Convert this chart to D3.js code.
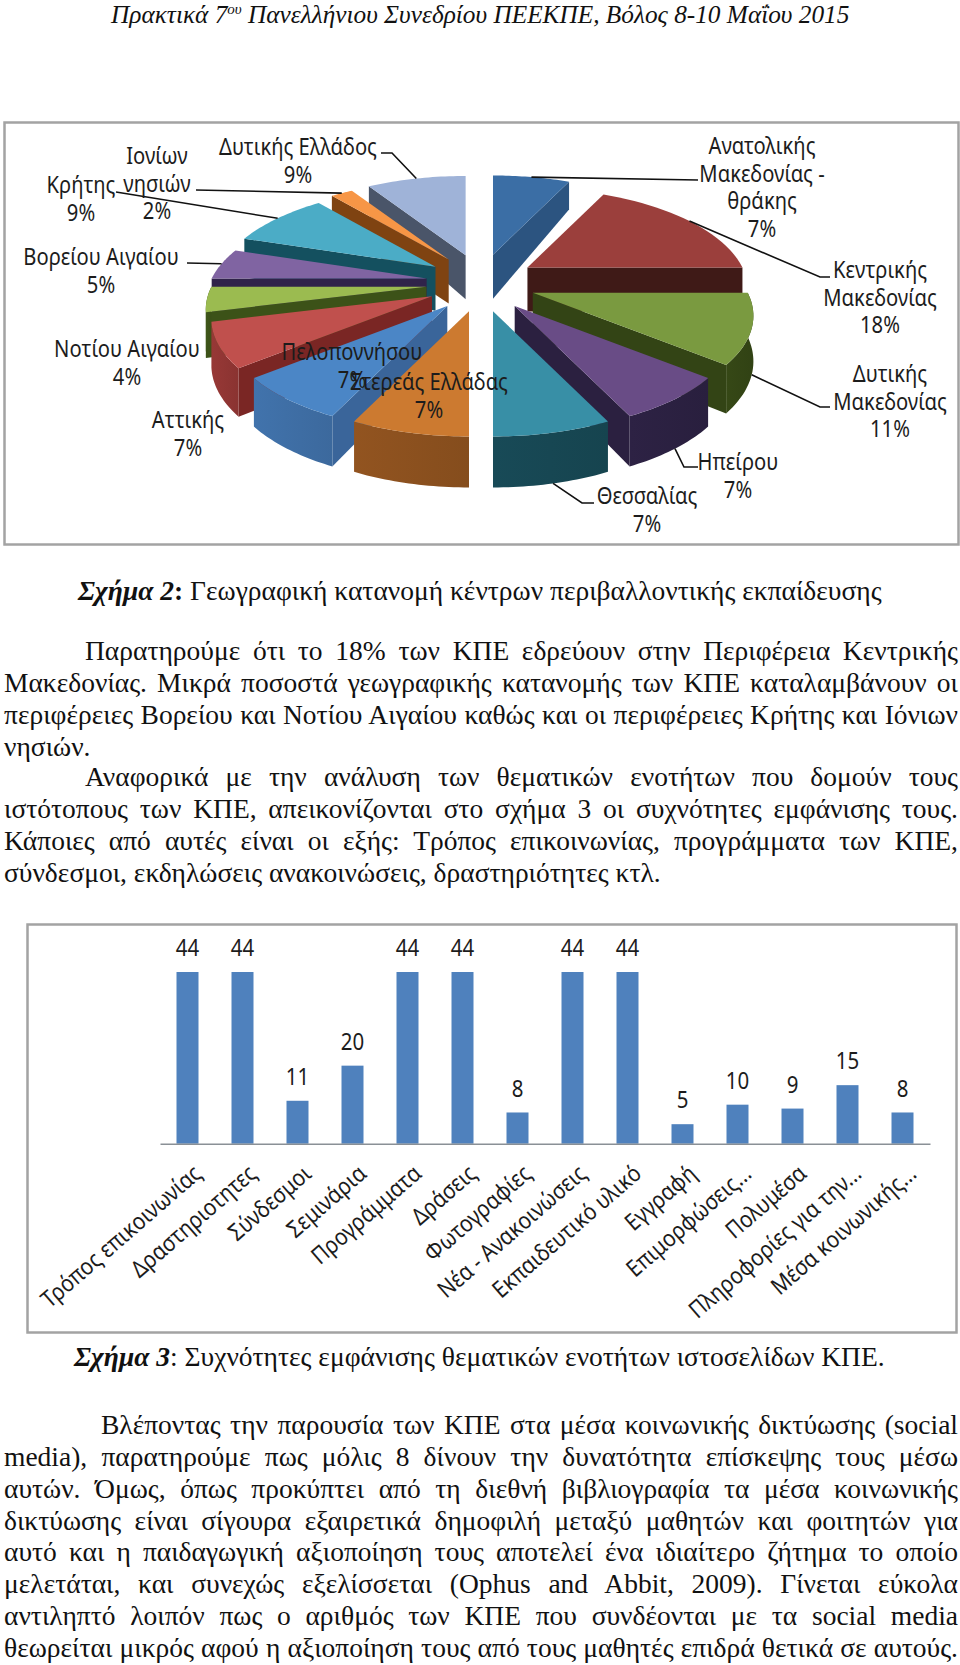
<!DOCTYPE html>
<html>
<head>
<meta charset="utf-8">
<script src="https://cdn.jsdelivr.net/npm/d3@7"></script>
<style>
  html, body { margin: 0; padding: 0; background: #fff; }
  #page { position: relative; width: 960px; height: 1665px; overflow: hidden; }
  #charts { position: absolute; left: 0; top: 0; }
  .line { position: absolute; font-family: "Liberation Serif", serif; font-size: 27.5px; line-height: 32px;
          white-space: nowrap; color: #111; text-align: justify; text-align-last: justify; }
  .line.last { text-align-last: left; }
  .lbl { font-family: "Noto Sans", sans-serif; font-size: 23.5px; fill: #1c1c1c; text-anchor: middle; }
</style>
</head>
<body>
<div id="page"><svg id="charts" width="960" height="1665"></svg></div>
<script>
// pie data
var regions = ["Ανατολικής Μακεδονίας - θράκης", "Κεντρικής Μακεδονίας", "Δυτικής Μακεδονίας", "Ηπείρου", "Θεσσαλίας",
    "Στερεάς Ελλάδας", "Πελοποννήσου", "Αττικής", "Νοτίου Αιγαίου", "Βορείου Αιγαίου", "Κρήτης", "Ιονίων νησιών", "Δυτικής Ελλάδος"];
var regionShares = [7, 18, 11, 7, 7, 7, 7, 7, 4, 5, 9, 2, 9];

// bar data
var topics = ["Τρόπος επικοινωνίας", "Δραστηριοτητες", "Σύνδεσμοι", "Σεμινάρια", "Προγράμματα", "Δράσεις", "Φωτογραφίες",
    "Νέα - Ανακοινώσεις", "Εκπαιδευτικό υλικό", "Εγγραφή", "Επιμορφώσεις...", "Πολυμέσα", "Πληροφορίες για την...", "Μέσα κοινωνικής..."];
var topicCounts = [44, 44, 11, 20, 44, 44, 8, 44, 44, 5, 10, 9, 15, 8];

// page text
var para1 = ["Παρατηρούμε ότι το 18% των ΚΠΕ εδρεύουν στην Περιφέρεια Κεντρικής",
    "Μακεδονίας. Μικρά ποσοστά γεωγραφικής κατανομής των ΚΠΕ καταλαμβάνουν οι",
    "περιφέρειες Βορείου και Νοτίου Αιγαίου καθώς και οι περιφέρειες Κρήτης και Ιόνιων",
    "νησιών."];
var para2 = ["Αναφορικά με την ανάλυση των θεματικών ενοτήτων που δομούν τους",
    "ιστότοπους των ΚΠΕ, απεικονίζονται στο σχήμα 3 οι συχνότητες εμφάνισης τους.",
    "Κάποιες από αυτές είναι οι εξής: Τρόπος επικοινωνίας, προγράμματα των ΚΠΕ,",
    "σύνδεσμοι, εκδηλώσεις ανακοινώσεις, δραστηριότητες κτλ."];
var para3 = ["Βλέποντας την παρουσία των ΚΠΕ στα μέσα κοινωνικής δικτύωσης (social",
    "media), παρατηρούμε πως μόλις 8 δίνουν την δυνατότητα επίσκεψης τους μέσω",
    "αυτών. Όμως, όπως προκύπτει από τη διεθνή βιβλιογραφία τα μέσα κοινωνικής",
    "δικτύωσης είναι σίγουρα εξαιρετικά δημοφιλή μεταξύ μαθητών και φοιτητών για",
    "αυτό και η παιδαγωγική αξιοποίηση τους αποτελεί ένα ιδιαίτερο ζήτημα το οποίο",
    "μελετάται, και συνεχώς εξελίσσεται (Ophus and Abbit, 2009). Γίνεται εύκολα",
    "αντιληπτό λοιπόν πως ο αριθμός των ΚΠΕ που συνδέονται με τα social media",
    "θεωρείται μικρός αφού η αξιοποίηση τους από τους μαθητές επιδρά θετικά σε αυτούς."];

// slice colours, same order as regions
var topColors = ["#3b6ea5", "#9b3f3c", "#7a9a40", "#694c86", "#388fa6", "#cc7a30", "#4b86c6", "#c0504d", "#9bbb50", "#8064a2", "#4bacc6", "#f79646", "#9fb3d8"];
var wallColors = ["#2c5480", "#3f1a17", "#334415", "#2b2040", "#174652", "#8a501e", "#3e6da3", "#8f3533", "#3c5218", "#30234a", "#14505f", "#7f4311", "#4a5569"];
var cutColors = ["#2c5480", "#3f1a17", "#334415", "#2b2040", "#174652", "#8a501e", "#3a659a", "#7a2624", "#3c5218", "#30234a", "#14505f", "#7f4311", "#4a5569"];

var page = d3.select("#page");
var svg = d3.select("#charts");

// ---------- text lines ----------
function addLines(lines, top, indent, lastLeft) {
    lines.forEach(function(t, i) {
        page.append("div")
            .attr("class", "line" + (lastLeft && i == lines.length - 1 ? " last" : ""))
            .style("left", (i == 0 ? indent : 4) + "px")
            .style("width", (i == 0 ? 958 - indent : 954) + "px")
            .style("top", (top + i * 31.85) + "px")
            .text(t);
    });
}
addLines(para1, 635, 85, true);
addLines(para2, 761, 85, true);
addLines(para3, 1409, 101, false);

page.append("div").attr("class", "line").style("left", "111px").style("top", "-2px")
    .style("font-style", "italic").style("font-size", "25.3px").style("text-align-last", "left")
    .html("Πρακτικά 7<sup style='font-size:15px;line-height:0'>ου</sup> Πανελλήνιου Συνεδρίου ΠΕΕΚΠΕ, Βόλος 8-10 Μαΐου 2015");
page.append("div").attr("class", "line").style("left", "78px").style("top", "575px").style("text-align-last", "left")
    .html("<b><i>Σχήμα 2</i></b><b>:</b> Γεωγραφική κατανομή κέντρων περιβαλλοντικής εκπαίδευσης");
page.append("div").attr("class", "line").style("left", "74px").style("top", "1341px").style("text-align-last", "left")
    .html("<b><i>Σχήμα 3</i></b>: Συχνότητες εμφάνισης θεματικών ενοτήτων ιστοσελίδων ΚΠΕ.");

// ---------- frames ----------
svg.append("rect").attr("x", 4.5).attr("y", 122.5).attr("width", 954).attr("height", 422)
    .attr("fill", "#fff").attr("stroke", "#a3a3a3").attr("stroke-width", 2.5);
svg.append("rect").attr("x", 27.5).attr("y", 924.5).attr("width", 929).attr("height", 408)
    .attr("fill", "#fff").attr("stroke", "#a3a3a3").attr("stroke-width", 2.5);

// ---------- 3d exploded pie ----------
var pie_cx = 481, pie_cy = 283,   // centre before explosion
    expl_x = 55, expl_y = 29,     // explosion radii
    rim_x = 215, rim_y = 97,      // rim radii before perspective
    persp = 0.225;

var pieGen = d3.pie().sort(null)(regionShares);

function project(a) {
    var u = Math.sin(a), v = -Math.cos(a), s = 1 / (1 - persp * v);
    return { x: rim_x * u * s, y: rim_y * v * s, v: v };
}
// wall height shrinks towards the back of the pie
function depth(v) { return 44 + (v < 0 ? 18 : 7) * v; }

var pieLine = d3.line().x(function(d) { return d.x; }).y(function(d) { return d.y; });

var defs = svg.append("defs");
var slices = pieGen.map(function(d, i) {
    var mid = (d.startAngle + d.endAngle) / 2;
    var apex = { x: pie_cx + expl_x * Math.sin(mid), y: pie_cy - expl_y * Math.cos(mid), v: 0 };
    var rim = d3.range(0, 25).map(function(k) {
        var a = d.startAngle + (d.endAngle - d.startAngle) * k / 24;
        var p = project(a);
        return { x: apex.x + p.x, y: apex.y + p.y, v: p.v };
    });
    return { i: i, mid: mid, apex: apex, rim: rim };
});

function low(p) { return { x: p.x, y: p.y + depth(p.v) }; }

// back slices first
var drawOrder = slices.slice().sort(function(a, b) { return a.apex.y - b.apex.y; });
var pieG = svg.append("g");

drawOrder.forEach(function(s) {
    var g = pieG.append("g");
    var i = s.i, first = s.rim[0], last = s.rim[s.rim.length - 1];

    // radial cut faces, only when they face the viewer
    if (first.x < s.apex.x - 0.5) {
        g.append("path").attr("fill", cutColors[i])
            .attr("d", pieLine([s.apex, first, low(first), low(s.apex)]) + "Z");
    }
    if (s.apex.x < last.x - 0.5) {
        g.append("path").attr("fill", cutColors[i])
            .attr("d", pieLine([last, s.apex, low(s.apex), low(last)]) + "Z");
    }

    // outer wall, front half only
    var front = s.rim.filter(function(p) { return p.v >= -0.001; });
    if (front.length > 1) {
        var xs = d3.extent(front, function(p) { return p.x; });
        var grad = defs.append("linearGradient").attr("id", "wall" + i)
            .attr("gradientUnits", "userSpaceOnUse")
            .attr("x1", xs[0]).attr("x2", xs[1]).attr("y1", 0).attr("y2", 0);
        grad.append("stop").attr("offset", 0).attr("stop-color", d3.color(wallColors[i]).brighter(0.15));
        grad.append("stop").attr("offset", 1).attr("stop-color", d3.color(wallColors[i]).darker(0.1));
        g.append("path").attr("fill", "url(#wall" + i + ")")
            .attr("d", pieLine(front.concat(front.map(low).reverse())) + "Z");
    }

    // top face
    g.append("path").attr("fill", topColors[i])
        .attr("d", pieLine([s.apex].concat(s.rim)) + "Z");
});

// ---------- leader lines, elbow points by region, null where Excel drew none ----------
var leaderElbows = [
    [[698, 180]],
    [[820, 277], [830, 277]],
    [[820, 407], [830, 407]],
    [[684, 467], [698, 467]],
    [[582, 503], [594, 503]],
    null, null, null, null,
    [[187, 263]],
    [[116, 192]],
    [[196, 190]],
    [[392, 153], [381, 153]]
];
var leaderG = svg.append("g");
slices.forEach(function(s) {
    var el = leaderElbows[s.i];
    if (!el) return;
    var p = project(s.mid);
    var x0 = s.apex.x + p.x, y0 = s.apex.y + p.y + (p.v > 0 ? depth(p.v) : 0);
    leaderG.append("path")
        .attr("fill", "none").attr("stroke", "#111").attr("stroke-width", 1.6)
        .attr("d", d3.line()([[x0, y0]].concat(el)));
});

// ---------- pie labels, placement by hand as in the original ----------
var labelLines = [
    ["Ανατολικής", "Μακεδονίας -", "θράκης", "7%"],
    ["Κεντρικής", "Μακεδονίας", "18%"],
    ["Δυτικής", "Μακεδονίας", "11%"],
    ["Ηπείρου", "7%"],
    ["Θεσσαλίας", "7%"],
    ["Στερεάς Ελλάδας", "7%"],
    ["Πελοποννήσου", "7%"],
    ["Αττικής", "7%"],
    ["Νοτίου Αιγαίου", "4%"],
    ["Βορείου Αιγαίου", "5%"],
    ["Κρήτης", "9%"],
    ["Ιονίων", "νησιών", "2%"],
    ["Δυτικής Ελλάδος", "9%"]
];
var labelAnchors = [[762, 146], [880, 270], [890, 374], [738, 462], [647, 496], [429, 382], [352, 352], [188, 420], [127, 349], [101, 257], [81, 185], [157, 156], [298, 147]];

var labelG = svg.append("g");
labelLines.forEach(function(lines, i) {
    var g = labelG.append("g")
        .attr("transform", "translate(" + labelAnchors[i][0] + "," + labelAnchors[i][1] + ") scale(0.86,1)");
    lines.forEach(function(t, k) {
        g.append("text").attr("class", "lbl").attr("y", k * 27.5).attr("dy", "0.35em").text(t);
    });
});

// ---------- bar chart ----------
var bar_x = d3.scaleBand().domain(topics).range([160, 930]).paddingInner(0.6).paddingOuter(0.3);
var bar_y = d3.scaleLinear().domain([0, 44]).range([1143.7, 972]);
var barG = svg.append("g");

barG.selectAll("rect")
    .data(topicCounts)
    .enter()
    .append("rect")
    .attr("x", function(d, i) { return bar_x(topics[i]); })
    .attr("y", function(d) { return bar_y(d); })
    .attr("width", bar_x.bandwidth())
    .attr("height", function(d) { return bar_y(0) - bar_y(d); })
    .attr("fill", "#4f81bd");

barG.selectAll(".val")
    .data(topicCounts)
    .enter()
    .append("text")
    .attr("class", "lbl val")
    .attr("transform", function(d, i) {
        return "translate(" + (bar_x(topics[i]) + bar_x.bandwidth() / 2) + "," + (bar_y(d) - 24) + ") scale(0.87,1)";
    })
    .attr("dy", "0.35em")
    .text(function(d) { return d; });

// x axis with the rotated labels
var xAxis = barG.append("g")
    .attr("transform", "translate(0," + bar_y(0) + ")")
    .call(d3.axisBottom(bar_x).tickSize(0).tickPadding(0));
xAxis.select(".domain").attr("stroke", "#8a9096").attr("stroke-width", 1.6);
xAxis.selectAll("text")
    .attr("font-family", "'Noto Sans', sans-serif")
    .attr("font-size", 23.5)
    .attr("fill", "#1c1c1c")
    .attr("text-anchor", "end")
    .attr("dy", "0.35em")
    .attr("y", 0)
    .attr("transform", "translate(10,26) rotate(-41) scale(0.88,1)");
</script>
</body>
</html>
